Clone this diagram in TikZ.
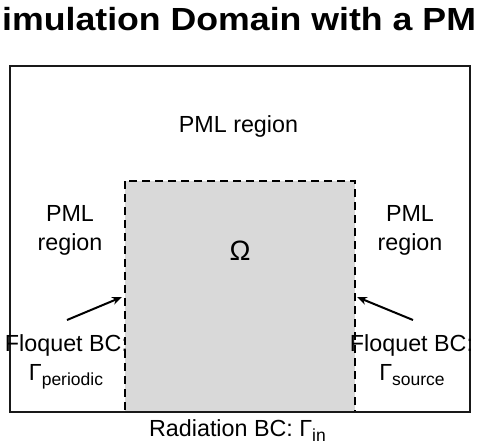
\documentclass[tikz,border=0pt]{standalone}
\usepackage{fontspec}
\setmainfont{Liberation Sans}
\usetikzlibrary{arrows.meta}
\tikzset{
  lbl/.style={inner sep=0pt, anchor=base, font=\fontsize{23.3}{23.3}\selectfont},
  ttl/.style={inner sep=0pt, anchor=base west, font=\bfseries\fontsize{32}{32}\selectfont},
  outerbox/.style={draw=black!90, line width=2pt},
  domainbox/.style={fill=black!15, draw=black, line width=2pt, dash pattern=on 8pt off 5pt},
  ptr/.style={draw=black, line width=2pt, -{Stealth[length=10pt,width=8pt]}}
}
\newcommand{\subt}[1]{\raisebox{-5pt}{\fontsize{17.5}{17.5}\selectfont #1}}
\begin{document}
\begin{tikzpicture}[x=1pt,y=-1pt]
\useasboundingbox (0,0) rectangle (482,445);
\node[ttl] (title) at (2,30) {\scalebox{1.115}[1]{imulation Domain with a PM}};
% domain
\coordinate (d1) at (125,181);
\coordinate (d2) at (355,412);
\path[domainbox] (d1) rectangle (d2);
\coordinate (o1) at (10,66);
\coordinate (o2) at (470,412);
\draw[outerbox] (o1) rectangle (o2);
% labels
\node[lbl] (pmltop) at (238.5,132) {PML region};
\node[lbl] (pmll1) at (70,221) {PML};
\node[lbl] (pmll2) at (70,250) {region};
\node[lbl] (pmlr1) at (410,221) {PML};
\node[lbl] (pmlr2) at (410,250) {region};
\node[lbl, font=\fontsize{28}{28}\selectfont] (omega) at (240,260) {Ω};
\node[lbl] (fql) at (66.5,351) {Floquet BC:};
\node[lbl] (gpl) at (66,380) {Γ\subt{periodic}};
\node[lbl] (fqr) at (411.5,351) {Floquet BC:};
\node[lbl] (gsr) at (412,380) {Γ\subt{source}};
\node[lbl] (rad) at (237.5,436) {Radiation BC: Γ\subt{in}};
% arrows
\coordinate (tl) at (67,320);
\coordinate (hl) at (122,297);
\coordinate (tr) at (413,320);
\coordinate (hr) at (357,297);
\draw[ptr] (tl) -- (hl);
\draw[ptr] (tr) -- (hr);
\end{tikzpicture}
\end{document}
